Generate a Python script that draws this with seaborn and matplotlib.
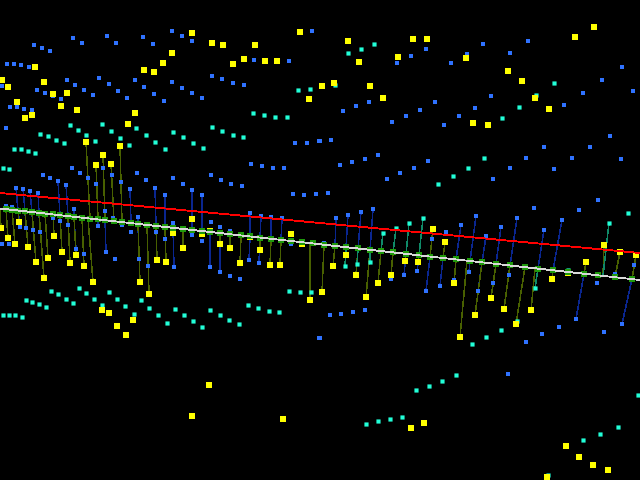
import matplotlib
matplotlib.use("Agg")
import matplotlib.pyplot as plt
import pandas as pd
import seaborn as sns

# Readings are taken in the picture's own x / y scale (0-640, 480-0).
yellow_free = [(192,33),(212,43),(223,45),(255,45),(300,32),(172,53),(163,63),(144,70),(154,72),(233,64),(244,59),
 (265,61),(277,61),(35,67),(2,80),(8,87),(44,82),(53,94),(67,93),(17,102),(61,106),(77,110),(32,115),(25,118),
 (135,113),(128,124),(309,99),(348,41),(359,62),(398,57),(413,39),(427,39),(466,58),(508,71),(522,81),(535,98),
 (549,109),(575,37),(594,27),(473,123),(488,125),(322,86),(334,83),(370,86),(383,98),
 (173,233),(192,219),(202,234),(210,231),(250,237),(291,234),(302,244),(568,273),
 (102,310),(109,313),(117,326),(126,335),(133,320),(209,385),(192,416),(283,419),
 (411,428),(424,423),(566,446),(579,457),(593,465),(608,470),(547,477)]
yellow_stem = [(86,142,90),(96,165,98),(103,155,105),(111,164,114),(120,146,122),(1,228,0),(19,222,18),(8,238,6),
 (15,244,12),(28,247,25),(36,262,32),(44,278,39),(48,258,45),(54,236,53),(62,252,60),(70,263,68),(76,255,74),
 (84,266,82),(93,282,88),(140,282,138),(149,294,147),(157,260,156),(166,262,165),(183,248,183),(220,244,220),
 (230,248,230),(240,263,241),(260,250,260),(270,265,271),(280,265,281),(310,300,310),(322,292,324),(333,266,335),
 (346,255,346),(356,275,358),(366,297,370),(378,283,381),(391,275,393),(405,261,406),(418,262,419),(433,229,430),
 (445,242,443),(454,283,456),(460,337,467),(475,315,482),(491,298,496),(504,309,510),(516,324,525),(531,310,535),
 (552,279,553),(586,262,584),(604,245,603),(620,252,615),(636,255,632)]

cyan_free = [(298,90),(310,89),(253,113),(264,115),(275,117),(287,117),(70,125),(78,130),(86,135),(95,141),(102,124),
 (111,131),(120,138),(129,145),(136,128),(146,135),(155,142),(165,149),(173,132),(183,137),(193,143),(203,148),
 (212,127),(222,131),(233,135),(243,137),(40,134),(48,136),(56,140),(64,143),(14,149),(21,149),(28,151),(35,153),
 (3,168),(9,169),(26,300),(32,302),(39,304),(46,307),(51,291),(58,294),(66,299),(73,303),(79,288),(86,293),(94,299),
 (102,305),(109,292),(117,299),(125,306),(134,314),(141,300),(149,308),(158,315),(167,323),(175,309),(184,315),
 (193,321),(202,327),(210,310),(220,315),(229,320),(239,324),(248,305),(258,308),(269,311),(279,312),(289,291),
 (300,292),(311,292),(3,315),(9,315),(15,315),(22,317),(472,344),(456,375),(442,381),(429,386),(416,390),(366,424),
 (378,421),(390,419),(402,417),(638,395),(618,427),(600,434),(583,440),(548,475),(628,213),(517,321),(486,337),
 (501,330),(348,53),(361,49),(374,44),(335,85),(554,83),(536,95),(519,107),(502,118),(484,158),(468,168),(453,176),
 (438,184),(568,270)]
cyan_stem = [(383,233,381),(396,228,393),(409,223,406),(423,218,419),(345,266,346),(357,264,358),(370,262,370),
 (535,288,538),(609,223,603)]

blue_free = [(34,45),(42,48),(50,51),(73,38),(82,43),(107,36),(116,43),(143,37),(153,44),(172,31),(182,36),(192,41),
 (312,31),(7,64),(14,64),(21,65),(29,67),(254,60),(289,61),(67,80),(75,85),(84,90),(93,95),(99,78),(109,84),(118,91),
 (127,98),(135,80),(144,87),(154,94),(164,101),(172,82),(182,88),(192,93),(202,98),(212,76),(222,79),(233,83),(244,85),
 (2,86),(37,90),(45,93),(53,96),(61,99),(10,107),(17,107),(24,109),(32,110),(6,128),(295,143),(307,143),(319,141),
 (251,164),(262,166),(273,168),(284,168),(293,194),(304,195),(316,194),(43,175),(50,178),(72,168),(80,173),(88,178),
 (96,184),(103,168),(112,175),(121,182),(137,173),(146,180),(173,178),(183,184),(211,175),(221,180),(231,184),(242,186),
 (6,206),(12,207),(53,218),(113,218),(122,225),(84,254),(2,244),(9,244),(115,259),(148,266),(156,232),(165,239),(173,223),
 (192,235),(202,241),(211,222),(220,227),(230,231),(230,276),(240,279),(291,244),(131,232),(319,338),
 (483,44),(528,41),(467,54),(510,53),(426,49),(411,56),(397,63),(451,63),(622,67),(602,80),(583,93),(633,91),(491,96),
 (564,105),(435,102),(369,102),(356,106),(343,111),(420,110),(406,116),(475,108),(459,116),(392,122),(444,125),(610,136),
 (544,147),(590,147),(572,158),(621,159),(526,158),(554,169),(510,168),(493,179),(428,161),(414,168),(400,173),(387,179),
 (378,155),(365,159),(352,162),(340,165),(331,140),(320,141),(328,193),(534,208),(598,200),(579,210),(432,239),(446,232),
 (324,243),(391,279),(454,280),(493,283),(509,275),(597,283),(615,274),(634,265),(330,315),(341,314),(353,312),(365,310),
 (320,338),(559,327),(542,334),(604,332),(526,342),(508,374)]
blue_stem = [(16,188,18),(23,189,25),(30,191,32),(38,193,39),(58,181,60),(66,185,68),(74,209,74),(105,211,105),(130,189,131),
 (155,188,156),(165,195,165),(192,190,192),(202,195,202),(138,217,138),(250,213,250),(261,216,260),(271,217,271),(282,218,281),
 (106,252,105),(98,226,98),(76,249,74),(68,225,68),(60,221,60),(40,232,39),(33,230,32),(26,228,25),(20,227,18),(139,259,138),
 (174,267,173),(210,267,210),(220,272,220),(249,260,250),(259,263,260),
 (336,218,335),(348,215,346),(361,212,358),(373,209,370),(404,275,406),(417,271,419),(426,291,430),(440,286,443),(461,225,456),
 (476,216,470),(486,236,482),(501,227,496),(517,218,510),(544,230,538),(562,220,553),(478,291,482),(469,272,470),(576,319,584),
 (622,324,632)]

green_x = [6,12,18,25,32,39,45,53,60,68,74,82,90,98,105,114,122,131,138,147,156,165,173,183,192,202,210,220,230,241,250,260,271,
 281,291,302,313,324,335,346,358,370,381,393,406,419,430,443,456,470,482,496,510,525,538,553,568,584,598,615,632]
white_line_x = [0, 640]
white_line_y = [208.5, 280]
red_line_x = [0, 640]
red_line_y = [193, 253]

def white_y(x):
    return white_line_y[0] + (white_line_y[1]-white_line_y[0])*x/640

sns.set_theme(style="dark", rc={"axes.facecolor": "black", "figure.facecolor": "black"})
fig, ax = plt.subplots(figsize=(6.4, 4.8), dpi=100)
fig.subplots_adjust(0, 0, 1, 1)

def stems(data, color):
    for x, y, b in data:
        ax.plot([x, b], [y, white_y(b)], color=color, lw=0.35, antialiased=False, zorder=1, solid_capstyle="butt")

stems(blue_stem, "#0a2690")
stems(yellow_stem, "#486000")
stems(cyan_stem, "#0f8a68")

def points(pts, color, size, z, **kw):
    df = pd.DataFrame([p[:2] for p in pts], columns=["x", "y"])
    sns.scatterplot(data=df, x="x", y="y", ax=ax, color=color, marker="s", s=size, linewidth=0,
                    zorder=z, legend=False, **kw)

points(blue_free + blue_stem, "#2f72ff", 7, 2, antialiased=False)
points(cyan_free + cyan_stem, "#22ffd8", 9, 3, snap=False)
points(yellow_free + yellow_stem, "#ffff00", 18, 4, antialiased=False)
points([(x, white_y(x)) for x in green_x], "#1f9a0c", 18, 5, antialiased=False)

sns.lineplot(x=white_line_x, y=white_line_y, ax=ax, color="#d8d8d8", lw=0.6, zorder=6, estimator=None, sort=False, antialiased=False)
sns.lineplot(x=red_line_x, y=red_line_y, ax=ax, color="#ff0000", lw=0.6, zorder=7, estimator=None, sort=False, antialiased=False)

ax.set_xlim(0, 640)
ax.set_ylim(480, 0)
ax.set_axis_off()
fig.savefig("out.png", dpi=100, facecolor="black")
